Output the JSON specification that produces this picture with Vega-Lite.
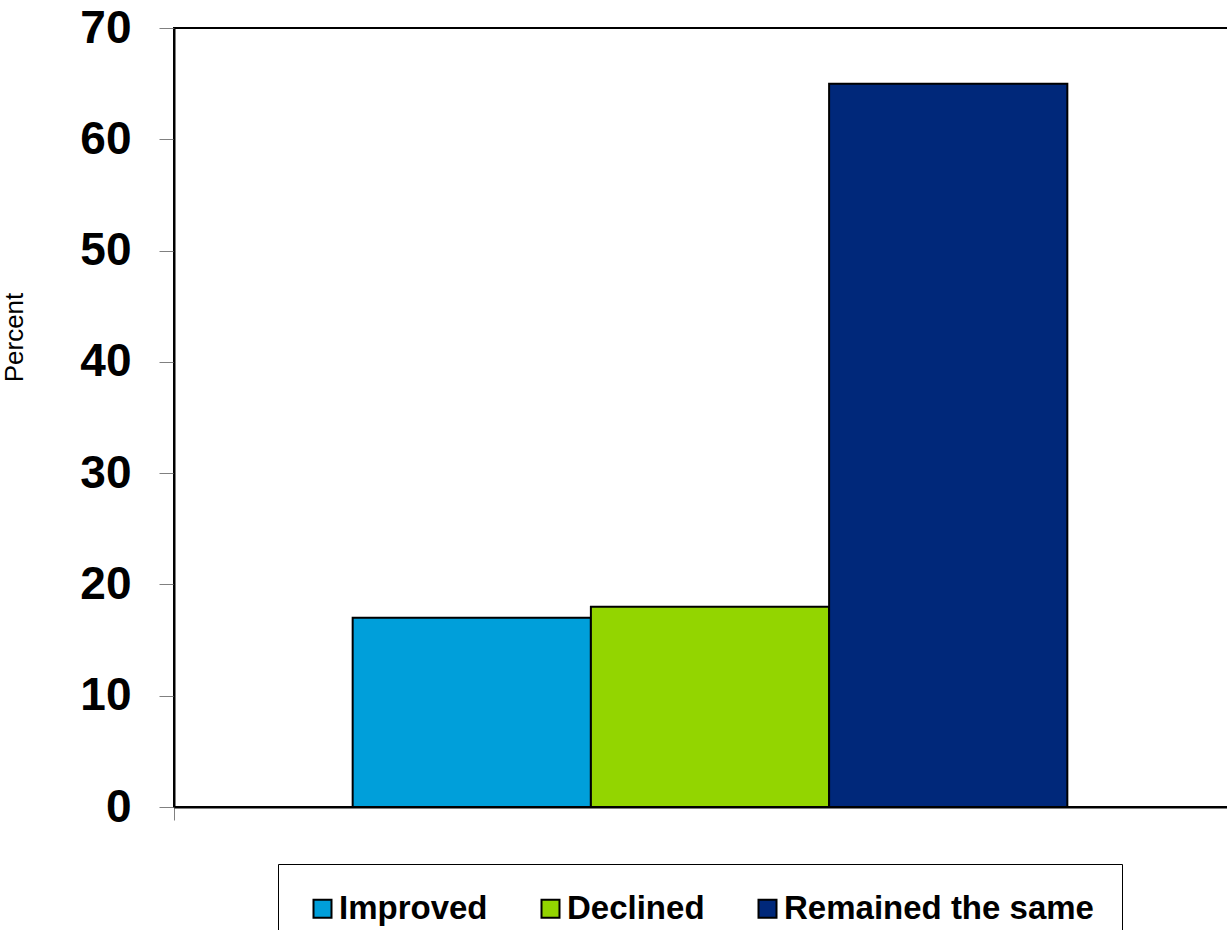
{
  "$schema": "https://vega.github.io/schema/vega-lite/v6.json",
  "width": 1072,
  "height": 779,
  "autosize": "none",
  "padding": {"left": 174, "top": 28, "right": 0, "bottom": 123},
  "background": "white",
  "config": {"view": {"stroke": "black", "strokeWidth": 2}},
  "data": {"values": [
    {"group": "All", "status": "Improved", "percent": 17},
    {"group": "All", "status": "Declined", "percent": 18},
    {"group": "All", "status": "Remained the same", "percent": 65}
  ]},
  "mark": {"type": "bar", "stroke": "black", "strokeWidth": 2},
  "encoding": {
    "x": {
      "field": "group", "type": "nominal",
      "scale": {"paddingInner": 0, "paddingOuter": 0},
      "axis": {"labels": false, "title": null, "domainColor": "black", "domainWidth": 2, "bandPosition": 0, "tickColor": "#808080", "tickSize": 13, "tickWidth": 1}
    },
    "xOffset": {
      "field": "status", "type": "nominal",
      "sort": ["Improved", "Declined", "Remained the same"],
      "scale": {"paddingInner": 0, "paddingOuter": 0.75}
    },
    "y": {
      "field": "percent", "type": "quantitative",
      "scale": {"domain": [0, 70]},
      "axis": {
        "values": [0, 10, 20, 30, 40, 50, 60, 70],
        "grid": false,
        "domainColor": "black", "domainWidth": 2,
        "tickColor": "#808080", "tickSize": 15, "tickWidth": 1,
        "labelFont": "Liberation Sans", "labelFontSize": 46, "labelFontWeight": "bold", "labelColor": "black", "labelPadding": 28,
        "title": "Percent", "titleFont": "Liberation Sans", "titleFontSize": 26, "titleFontWeight": "normal", "titleColor": "black", "titlePadding": 52, "titleY": 309
      }
    },
    "color": {
      "field": "status", "type": "nominal",
      "scale": {"domain": ["Improved", "Declined", "Remained the same"], "range": ["#009FDA", "#93D500", "#00287A"]},
      "legend": {
        "orient": "none", "legendX": 104, "legendY": 836,
        "direction": "horizontal", "title": null,
        "strokeColor": "black", "fillColor": "white", "padding": 28,
        "symbolType": "square", "symbolSize": 324, "symbolStrokeColor": "black", "symbolStrokeWidth": 2, "symbolOpacity": 1,
        "labelFont": "Liberation Sans", "labelFontSize": 33, "labelFontWeight": "bold", "labelColor": "black", "labelOffset": 0, "labelLimit": 0,
        "columnPadding": 46
      }
    }
  }
}
